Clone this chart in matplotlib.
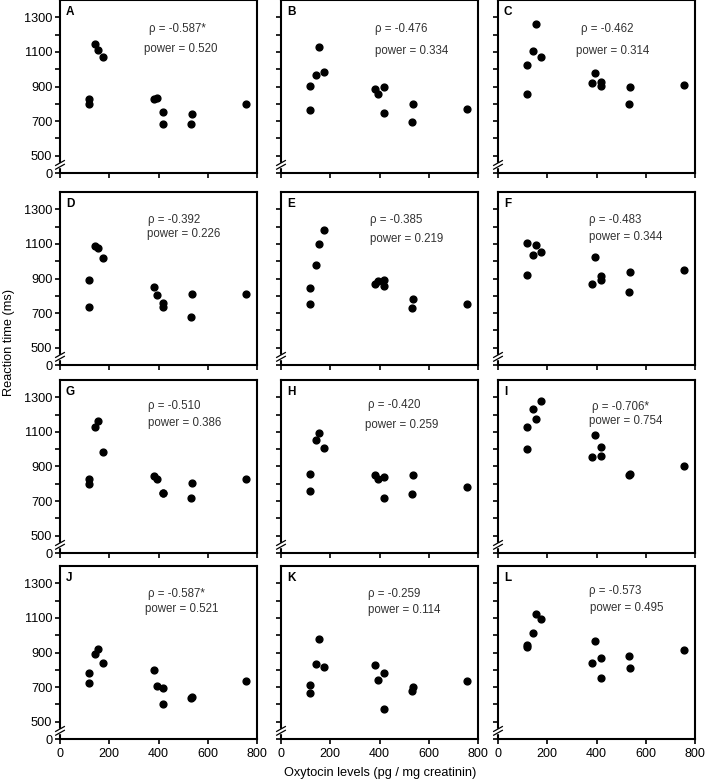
"""Reaction time vs oxytocin levels, 4x3 grid of scatter panels (A-L)."""
import matplotlib as mpl
import matplotlib.pyplot as plt
from matplotlib.patches import Rectangle

# --- Data -----------------------------------------------------------------
OXYTOCIN = [118, 118, 141, 155, 173, 380, 392, 419, 419, 531, 537, 755]

RT_A = [829, 800, 1146, 1110, 1069, 825, 836, 752, 684, 684, 740, 801]
RT_B = [904, 765, 967, 1129, 984, 888, 855, 898, 744, 694, 801, 769]
RT_C = [1025, 859, 1107, 1260, 1073, 923, 980, 928, 905, 796, 896, 907]
RT_D = [894, 733, 1086, 1077, 1021, 852, 802, 756, 733, 679, 811, 810]
RT_E = [844, 752, 977, 1098, 1183, 869, 885, 894, 856, 727, 781, 750]
RT_F = [1104, 919, 1033, 1096, 1052, 867, 1027, 913, 892, 823, 938, 952]
RT_G = [830, 796, 1130, 1161, 984, 846, 829, 748, 745, 717, 807, 829]
RT_H = [859, 758, 1054, 1092, 1007, 853, 827, 842, 719, 740, 853, 784]
RT_I = [1129, 1003, 1231, 1173, 1281, 956, 1081, 1012, 963, 850, 856, 905]
RT_J = [782, 726, 890, 921, 840, 800, 707, 692, 605, 638, 642, 736]
RT_K = [713, 667, 833, 980, 819, 830, 740, 781, 576, 677, 700, 734]
RT_L = [944, 934, 1015, 1125, 1096, 838, 965, 871, 754, 882, 810, 917]

LETTERS = list("ABCDEFGHIJKL")
SERIES = [RT_A, RT_B, RT_C, RT_D, RT_E, RT_F,
          RT_G, RT_H, RT_I, RT_J, RT_K, RT_L]
RHO = ["-0.587*", "-0.476", "-0.462", "-0.392", "-0.385", "-0.483",
       "-0.510", "-0.420", "-0.706*", "-0.587*", "-0.259", "-0.573"]
POWER = ["0.520", "0.334", "0.314", "0.226", "0.219", "0.344",
         "0.386", "0.259", "0.754", "0.521", "0.114", "0.495"]

X_TICKS = [0, 200, 400, 600, 800]
Y_TICKS = [400, 500, 600, 700, 800, 900, 1000, 1100, 1200, 1300]
Y_TICKLABELS = ["0", "500", "", "700", "", "900", "", "1100", "", "1300"]

# --- Layout (pixels of a 707x781 canvas) ----------------------------------
W, H = 707, 781
COL_LEFT = [60, 281, 498]
AX_W = 197
ROW_BOTTOM = [173, 365, 553, 739]
AX_H = 173

# (rho_x, rho_y, power_x, power_y) in data units, left-aligned text
TEXT_POS = [
    (361, 1231, 341, 1115), (382, 1231, 382, 1106), (338, 1231, 317, 1106),
    (359, 1240, 355, 1160), (361, 1237, 361, 1131), (368, 1238, 368, 1137),
    (359, 1250, 356, 1153), (355, 1254, 341, 1140), (382, 1246, 368, 1163),
    (356, 1238, 345, 1150), (355, 1238, 355, 1146), (368, 1257, 372, 1156),
]

mpl.rcParams.update({
    "font.family": ["Liberation Sans", "DejaVu Sans"],
    "font.size": 9,
    "axes.linewidth": 1.5,
    "xtick.direction": "out",
    "ytick.direction": "out",
    "xtick.major.size": 3.5,
    "ytick.major.size": 3.5,
    "xtick.major.width": 1.2,
    "ytick.major.width": 1.2,
    "xtick.labelsize": 9,
    "ytick.labelsize": 9.2,
})


def _draw_break(ax):
    """Small '//' mark on the y axis between 0 and 500."""
    y0 = 0.047
    ax.add_patch(Rectangle((-0.03, y0 - 0.012), 0.06, 0.024,
                           transform=ax.transAxes, color="white",
                           clip_on=False, zorder=5))
    for dy in (-0.011, 0.011):
        ax.plot([-0.022, 0.022], [y0 + dy - 0.014, y0 + dy + 0.014],
                transform=ax.transAxes, color="black", lw=0.9,
                clip_on=False, zorder=6)


def main():
    fig = plt.figure(figsize=(W / 100, H / 100), dpi=100)

    for i, (letter, rt) in enumerate(zip(LETTERS, SERIES)):
        row, col = divmod(i, 3)
        left = COL_LEFT[col] / W
        bottom = (H - ROW_BOTTOM[row]) / H
        ax = fig.add_axes([left, bottom, AX_W / W, AX_H / H])

        ax.scatter(OXYTOCIN, rt, s=24, color="black", zorder=3)

        ax.set_xlim(0, 800)
        ax.set_ylim(400, 1400)
        ax.set_xticks(X_TICKS)
        ax.set_yticks(Y_TICKS)
        if col == 0:
            ax.set_yticklabels(Y_TICKLABELS)
        else:
            ax.set_yticklabels([])
        if row == 3:
            ax.set_xticklabels([str(t) for t in X_TICKS])
        else:
            ax.set_xticklabels([])
        ax.tick_params(axis="y", pad=2)
        ax.tick_params(axis="x", pad=3)

        _draw_break(ax)

        ax.text(0.03, 0.93, letter, transform=ax.transAxes,
                fontsize=8.5, fontweight="bold", va="center", ha="left")
        rx, ry, px, py = TEXT_POS[i]
        ax.text(rx, ry, f"\u03c1 = {RHO[i]}", fontsize=8.3,
                color="#333333", va="center", ha="left")
        ax.text(px, py, f"power = {POWER[i]}", fontsize=8.3,
                color="#333333", va="center", ha="left")

    fig.text(9 / W, 1 - 342 / H, "Reaction time (ms)", rotation=90,
             fontsize=9.2, va="center", ha="center")
    fig.text(380 / W, 1 - 773 / H, "Oxytocin levels (pg / mg creatinin)",
             fontsize=9.2, va="center", ha="center")

    fig.savefig("out.png", dpi=100)
    plt.close(fig)


if __name__ == "__main__":
    main()
